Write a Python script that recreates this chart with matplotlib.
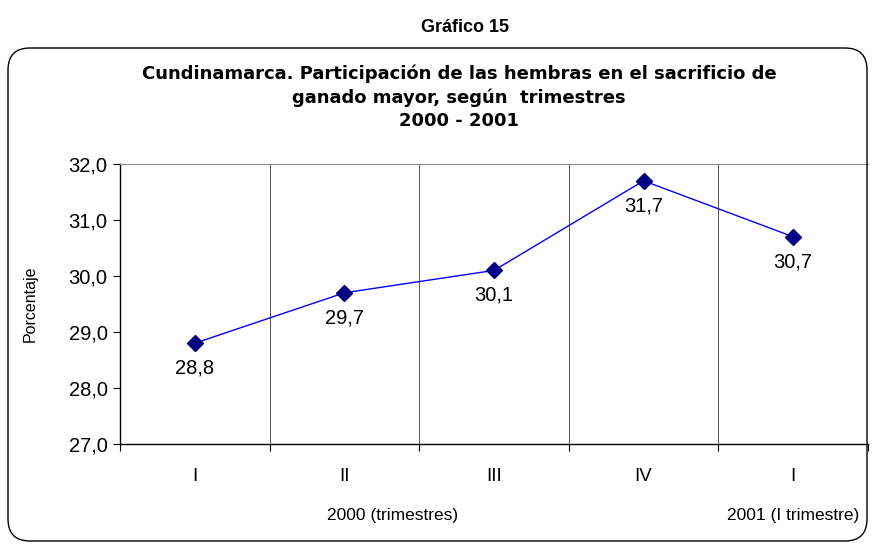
import matplotlib.pyplot as plt
from matplotlib.patches import FancyBboxPatch
from matplotlib.transforms import IdentityTransform

plt.rcParams['font.family'] = ['Liberation Sans', 'DejaVu Sans']

categories = ['I', 'II', 'III', 'IV', 'I']
values = [28.8, 29.7, 30.1, 31.7, 30.7]
y_ticks = [27.0, 28.0, 29.0, 30.0, 31.0, 32.0]
groups = ['2000 (trimestres)', '2001 (I trimestre)']

fig = plt.figure(figsize=(8.76, 5.46), dpi=100)
W, H = 876, 546

# rounded frame around the chart (pixel coords)
box = FancyBboxPatch((8, 5), 859, 493, boxstyle='round,pad=0,rounding_size=22',
                     transform=IdentityTransform(), fill=False, edgecolor='black', lw=1.0)
fig.add_artist(box)

fig.text(465 / W, 1 - 28 / H, 'Gráfico 15', ha='center', va='center',
         fontsize=13, fontweight='bold')
fig.text(459 / W, 1 - 97 / H,
         'Cundinamarca. Participación de las hembras en el sacrificio de\n'
         'ganado mayor, según  trimestres\n2000 - 2001',
         ha='center', va='center', fontsize=13, fontweight='bold',
         family='DejaVu Sans', linespacing=1.38)

ax = fig.add_axes([120 / W, 102 / H, 748 / W, 280 / H])
x = range(len(values))
ax.plot(x, values, color='#0000FF', lw=1.0, marker='D', markersize=8,
        markerfacecolor='#000080', markeredgecolor='#000080', zorder=3)
for xi, v in zip(x, values):
    ax.annotate(f'{v:.1f}'.replace('.', ','), (xi, v), xytext=(0, -18),
                textcoords='offset points', ha='center', va='center', fontsize=14.5)

ax.set_xlim(-0.5, len(values) - 0.5)
ax.set_ylim(27, 32)
ax.set_yticks(y_ticks)
ax.set_yticklabels([f'{t:.1f}'.replace('.', ',') for t in y_ticks], fontsize=14.5)
ax.set_ylabel('Porcentaje', fontsize=11.5, labelpad=22)

# category boundaries as ticks and vertical gridlines
bounds = [i + 0.5 for i in range(len(values) - 1)]
ax.set_xticks([-0.5] + bounds + [len(values) - 0.5])
ax.set_xticklabels([])
ax.tick_params(axis='x', length=5, direction='out')
ax.tick_params(axis='y', length=5, direction='out', pad=4)
for b in bounds:
    ax.axvline(b, color='#555555', lw=0.7, zorder=1)

for xi, c in zip(x, categories):
    ax.text(xi, -0.115, c, transform=ax.get_xaxis_transform(), ha='center',
            va='center', fontsize=13.5)
ax.text(1.32, -0.255, groups[0], transform=ax.get_xaxis_transform(), ha='center',
        va='center', fontsize=12.5)
ax.text(4.0, -0.255, groups[1], transform=ax.get_xaxis_transform(), ha='center',
        va='center', fontsize=12.5)

ax.spines['top'].set_color('#888888')
ax.spines['right'].set_visible(False)
ax.spines['left'].set_linewidth(1.0)
ax.spines['bottom'].set_linewidth(1.0)

fig.savefig('out.png', dpi=100)
